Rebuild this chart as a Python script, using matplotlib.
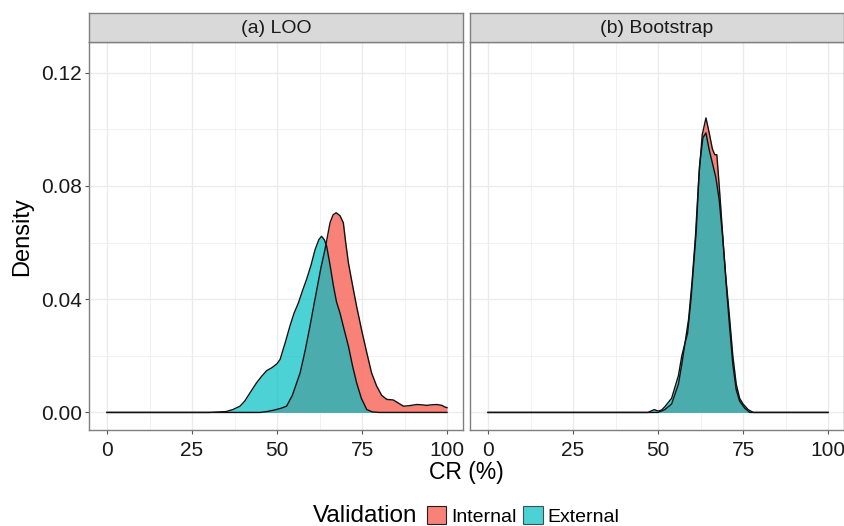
import matplotlib
matplotlib.use("Agg")
import matplotlib.pyplot as plt
from matplotlib.patches import Patch

plt.rcParams['font.family'] = ['Liberation Sans', 'DejaVu Sans']

# density curves (CR %, density)
loo_int_x = [0, 45, 47, 49, 51, 52.8, 54.5, 56.8, 58.3, 59.7, 60.7, 61.7, 62.9, 64.1, 65.6, 66.5,
             67.4, 68.5, 69.5, 70.2, 71, 72.2, 73.4, 74.9, 76.4, 77.8, 79.3, 80.8, 82.3, 84.2,
             85.7, 87.2, 89, 91.1, 92.5, 94, 95.5, 97, 98.5, 99.4, 100]
loo_int_y = [0, 0, 0.0003, 0.0008, 0.0014, 0.0022, 0.006, 0.014, 0.022, 0.0305, 0.037, 0.0434,
             0.051, 0.0575, 0.067, 0.0698, 0.0705, 0.0695, 0.067, 0.06, 0.0528, 0.045, 0.0375,
             0.029, 0.0211, 0.014, 0.0093, 0.006, 0.0046, 0.0044, 0.0033, 0.0022, 0.0024, 0.0028,
             0.0027, 0.0025, 0.0027, 0.0028, 0.0025, 0.0019, 0.0017]

loo_ext_x = [0, 30, 35, 37, 39.1, 40.5, 42.1, 44, 45.5, 47, 48.5, 50, 50.9, 52.5, 53.8, 55, 56.3,
             57.5, 58.7, 60, 61.2, 62.3, 63.1, 63.9, 64.6, 65.6, 66.6, 67.5, 68.5, 69.8, 71, 72.2,
             73.4, 74.8, 76.4, 78, 80, 100]
loo_ext_y = [0, 0, 0.0003, 0.001, 0.0022, 0.004, 0.007, 0.0105, 0.0128, 0.0148, 0.0158, 0.0172,
             0.0187, 0.025, 0.0305, 0.035, 0.0387, 0.043, 0.047, 0.052, 0.0575, 0.061, 0.0622,
             0.061, 0.0587, 0.052, 0.0446, 0.039, 0.0352, 0.029, 0.0234, 0.0165, 0.0105, 0.005,
             0.001, 0.0002, 0, 0]

bs_int_x = [0, 50, 52, 54, 56, 57, 58, 59, 60, 61, 62, 63, 64.1, 65, 66, 66.7, 67.3, 68, 69, 70,
            71, 72, 73, 74, 75.5, 77, 100]
bs_int_y = [0, 0, 0.001, 0.003, 0.01, 0.017, 0.025, 0.033, 0.046, 0.062, 0.083, 0.098, 0.104,
            0.099, 0.093, 0.091, 0.091, 0.08, 0.063, 0.046, 0.031, 0.017, 0.008, 0.004, 0.0015, 0, 0]

bs_ext_x = [0, 47, 48.9, 50, 51, 52, 54, 56, 57, 57.7, 58.7, 59.7, 61.2, 62.2, 63.2, 64.1, 65,
            66, 67, 68, 69, 70, 71, 72, 73, 74, 75, 76.5, 78, 100]
bs_ext_y = [0, 0, 0.001, 0.0005, 0.0008, 0.002, 0.005, 0.013, 0.02, 0.0234, 0.028, 0.04, 0.0634,
            0.087, 0.097, 0.0987, 0.093, 0.088, 0.083, 0.075, 0.062, 0.047, 0.034, 0.02, 0.01,
            0.005, 0.003, 0.001, 0, 0]

panels = ['(a) LOO', '(b) Bootstrap']
groups = ['Internal', 'External']
colors = {'Internal': '#F8766D', 'External': '#00BFC4'}
alphas = {'Internal': 0.92, 'External': 0.7}
data = {
    '(a) LOO': {'Internal': (loo_int_x, loo_int_y), 'External': (loo_ext_x, loo_ext_y)},
    '(b) Bootstrap': {'Internal': (bs_int_x, bs_int_y), 'External': (bs_ext_x, bs_ext_y)},
}
xticks = [0, 25, 50, 75, 100]
yticks = [0.0, 0.04, 0.08, 0.12]
ytick_labels = ['0.00', '0.04', '0.08', '0.12']

W, H = 844, 526
fig = plt.figure(figsize=(W / 100, H / 100), dpi=100)

panel_px = [(89, 463), (470, 844)]
top_px, bot_px, strip_top = 42, 430, 13
border = '#7f7f7f'
grid_c = '#ebebeb'

for i, name in enumerate(panels):
    x0, x1 = panel_px[i]
    ax = fig.add_axes([x0 / W, 1 - bot_px / H, (x1 - x0) / W, (bot_px - top_px) / H])
    ax.set_xlim(-5.3, 104.7)
    ax.set_ylim(-0.0062, 0.1308)
    ax.set_xticks(xticks)
    ax.set_xticks([12.5, 37.5, 62.5, 87.5], minor=True)
    ax.set_yticks(yticks)
    ax.set_yticks([0.02, 0.06, 0.10], minor=True)
    ax.grid(which='major', color=grid_c, linewidth=1.0)
    ax.grid(which='minor', color=grid_c, linewidth=0.5)
    ax.set_axisbelow(True)
    ax.tick_params(which='minor', length=0)
    ax.tick_params(which='major', length=3, width=0.8, color='#555555',
                   labelsize=15, labelcolor='#1a1a1a')
    ax.tick_params(axis='x', pad=5)
    ax.tick_params(axis='y', pad=2)
    if i == 0:
        ax.set_yticklabels(ytick_labels)
    else:
        ax.tick_params(axis='y', labelleft=False, length=0)
    for s in ax.spines.values():
        s.set_color(border)
        s.set_linewidth(1.0)

    for g in groups:
        gx, gy = data[name][g]
        ax.fill_between(gx, gy, 0, color=colors[g], alpha=alphas[g], linewidth=0, zorder=2)
        ax.plot(gx, gy, color='#111111', linewidth=1.0, zorder=3)

    # facet strip
    sax = fig.add_axes([x0 / W, 1 - top_px / H, (x1 - x0) / W, (top_px - strip_top) / H])
    sax.set_facecolor('#d9d9d9')
    sax.set_xticks([])
    sax.set_yticks([])
    for s in sax.spines.values():
        s.set_color(border)
        s.set_linewidth(1.0)
    sax.text(0.5, 0.48, name, ha='center', va='center', fontsize=14, color='#1a1a1a',
             transform=sax.transAxes)

fig.text(22 / W, 1 - 237 / H, 'Density', rotation=90, ha='center', va='center', fontsize=17)
fig.text(466 / W, 1 - 472 / H, 'CR (%)', ha='center', va='center', fontsize=16.5)

fig.text(313 / W, 1 - 516 / H, 'Validation', ha='left', va='center', fontsize=17.5)
handles = [Patch(facecolor=colors[g], alpha=alphas[g], edgecolor='#111111', linewidth=0.8)
           for g in groups]
fig.legend(handles, groups, loc='center left', bbox_to_anchor=(427 / W, 1 - 516 / H),
           ncol=2, frameon=False, fontsize=14, handlelength=1.0, handleheight=1.0,
           handletextpad=0.25, columnspacing=0.35, borderaxespad=0, borderpad=0)

fig.savefig('out.png', dpi=100)
